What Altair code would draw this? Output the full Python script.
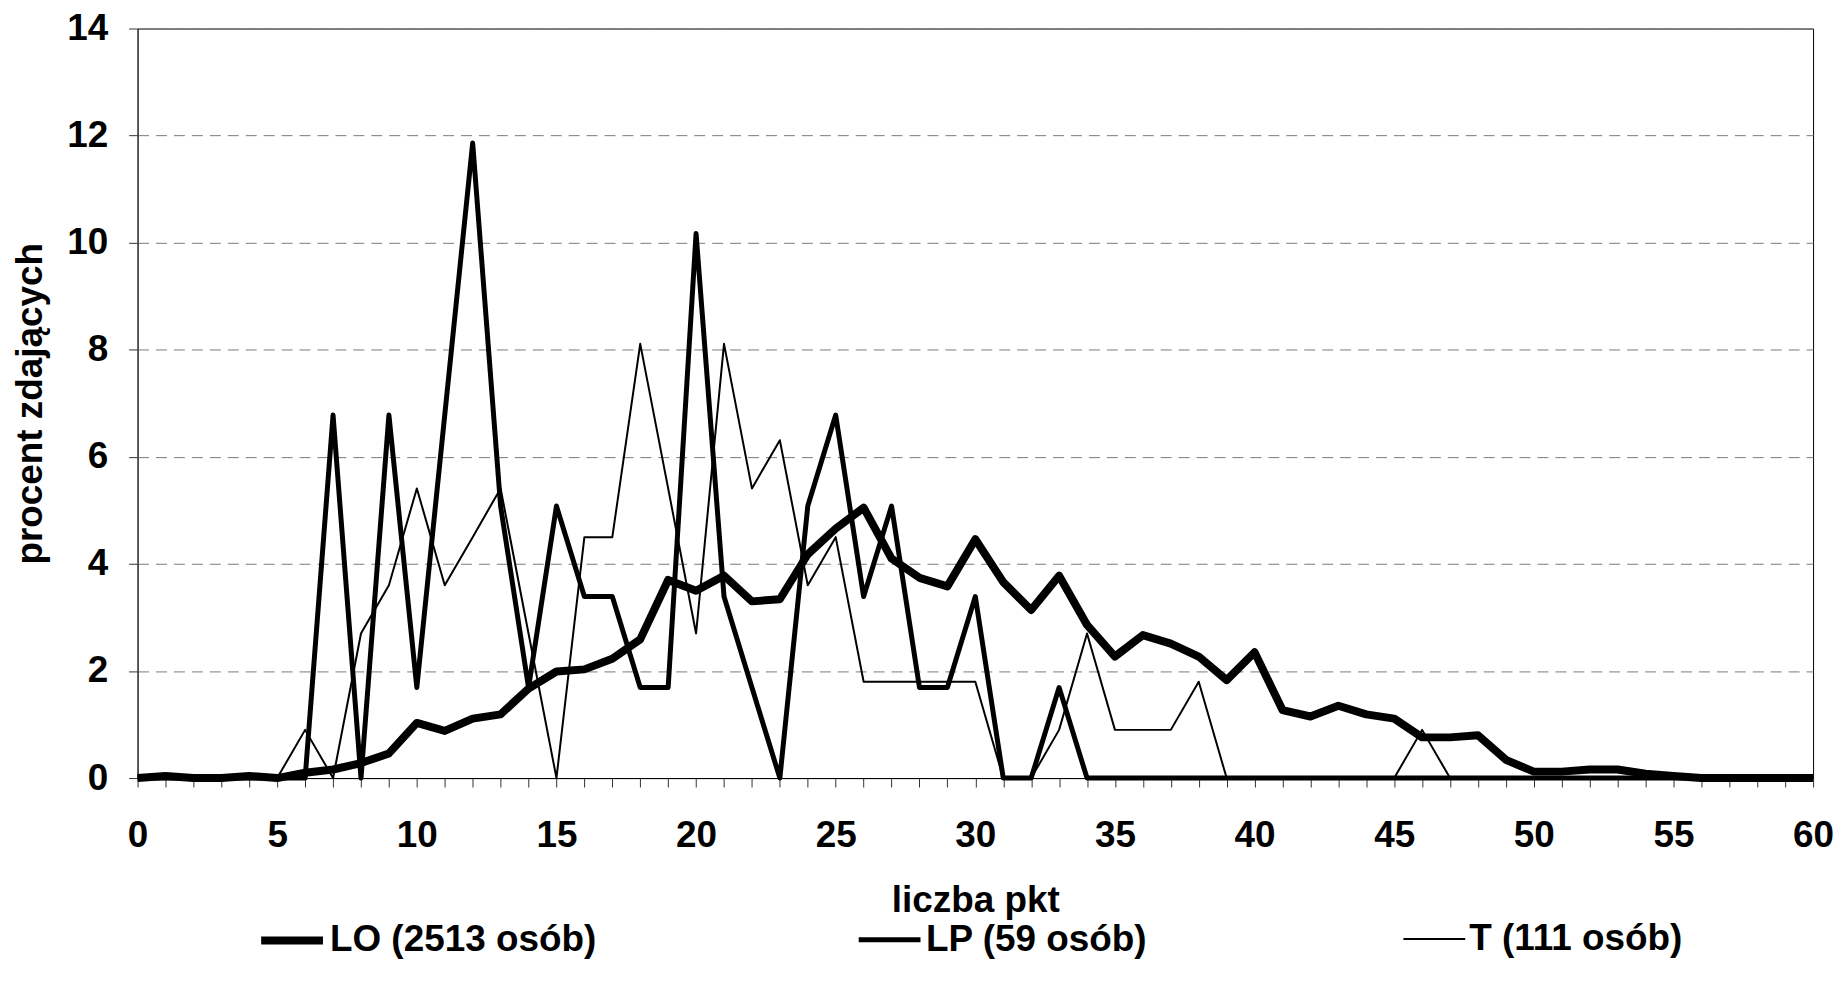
import altair as alt
import pandas as pd

# ---- data ----
points = list(range(61))

series_names = ["LO (2513 osób)", "LP (59 osób)", "T (111 osób)"]

lo = [0, 0.04, 0, 0, 0.04, 0, 0.1, 0.16, 0.28, 0.46,
      1.03, 0.88, 1.11, 1.19, 1.67, 1.99, 2.03, 2.23, 2.59, 3.7,
      3.5, 3.78, 3.3, 3.34, 4.18, 4.66, 5.05, 4.1, 3.74, 3.58,
      4.46, 3.66, 3.14, 3.78, 2.86, 2.27, 2.67, 2.51, 2.27, 1.83,
      2.35, 1.27, 1.15, 1.35, 1.19, 1.11, 0.76, 0.76, 0.8, 0.34,
      0.12, 0.12, 0.16, 0.16, 0.08, 0.04, 0, 0, 0, 0, 0]

lp = [0, 0, 0, 0, 0, 0, 0, 6.78, 0, 6.78,
      1.69, 6.78, 11.86, 5.08, 1.69, 5.08, 3.39, 3.39, 1.69, 1.69,
      10.17, 3.39, 1.69, 0, 5.08, 6.78, 3.39, 5.08, 1.69, 1.69,
      3.39, 0, 0, 1.69, 0, 0, 0, 0, 0, 0,
      0, 0, 0, 0, 0, 0, 0, 0, 0, 0,
      0, 0, 0, 0, 0, 0, 0, 0, 0, 0, 0]

t = [0, 0, 0, 0, 0, 0, 0.9, 0, 2.7, 3.6,
     5.41, 3.6, 4.5, 5.41, 2.7, 0, 4.5, 4.5, 8.11, 5.41,
     2.7, 8.11, 5.41, 6.31, 3.6, 4.5, 1.8, 1.8, 1.8, 1.8,
     1.8, 0, 0, 0.9, 2.7, 0.9, 0.9, 0.9, 1.8, 0,
     0, 0, 0, 0, 0, 0, 0.9, 0, 0, 0,
     0, 0, 0, 0, 0, 0, 0, 0, 0, 0, 0]

y_ticks = [0, 2, 4, 6, 8, 10, 12, 14]

rows = []
for name, vals in zip(series_names, [lo, lp, t]):
    for p, v in zip(points, vals):
        rows.append({"pkt": p, "pct": v, "series": name})
df = pd.DataFrame(rows)

FONT = "Liberation Sans"
FS = 37

chart = alt.Chart(df).mark_line(color="black", strokeJoin="round").encode(
    x=alt.X("pkt:Q",
            scale=alt.Scale(domain=[0, 60], nice=False, zero=False),
            axis=alt.Axis(values=points,
                          labelExpr="datum.value % 5 == 0 ? datum.label : ''",
                          labelOverlap=False, grid=False, tickSize=9,
                          labelPadding=31, titlePadding=29,
                          labelFlush=False),
            title="liczba pkt"),
    y=alt.Y("pct:Q",
            scale=alt.Scale(domain=[0, 14], nice=False),
            axis=alt.Axis(values=y_ticks, grid=True, gridDash=[11, 7],
                          gridColor="#7a7a7a", gridWidth=1, tickSize=9,
                          labelPadding=21, titlePadding=17,
                          domainColor="#333333"),
            title="procent zdających"),
    strokeWidth=alt.StrokeWidth(
        "series:N",
        scale=alt.Scale(domain=series_names, range=[8, 2], padding=0),
        legend=alt.Legend(orient="none", legendX=120, legendY=880,
                          direction="horizontal", title=None,
                          symbolType="stroke", symbolSize=3844,
                          symbolStrokeColor="black", labelFont=FONT,
                          labelFontSize=FS, labelFontWeight="bold",
                          labelColor="black", labelOffset=3,
                          columnPadding=252, padding=0, labelLimit=0)),
).properties(
    width=1681, height=752,
    autosize=alt.AutoSizeParams(type="none"),
    padding={"left": 130, "top": 19, "right": 24, "bottom": 196},
).configure_view(
    stroke="black", strokeWidth=1
).configure_axis(
    labelFont=FONT, labelFontSize=FS, labelFontWeight="bold",
    labelColor="black", titleFont=FONT, titleFontSize=FS,
    titleFontWeight="bold", titleColor="black",
    domainColor="black", tickColor="#333333", domainWidth=1
)

chart.save("out.html", embed_options={"renderer": "svg", "actions": False})
